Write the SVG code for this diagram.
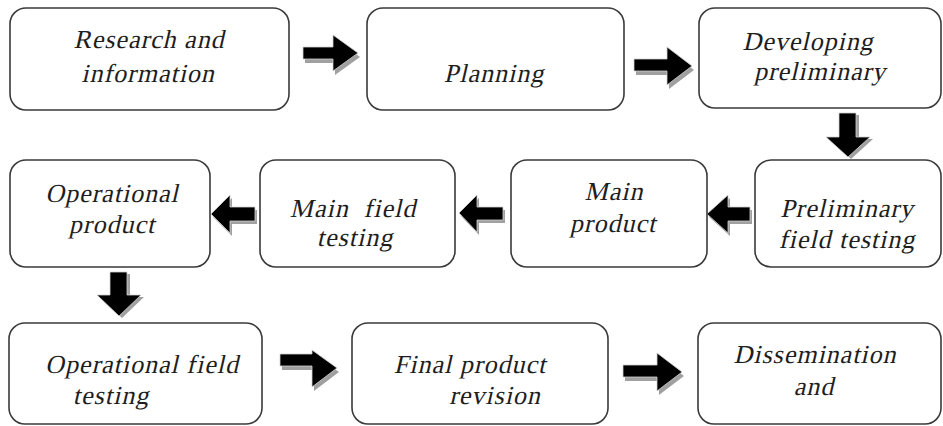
<svg xmlns="http://www.w3.org/2000/svg" width="943" height="426" viewBox="0 0 943 426">
<style>
.box{fill:#fff;stroke:#3a3a3a;stroke-width:1.6}
.t{font-family:'Liberation Serif','Times New Roman',serif;font-size:26px;letter-spacing:1px;fill:#1e1e1e;text-anchor:middle}
.ar{fill:#000;stroke:#d0d0d0;stroke-width:0.8}
.sh{fill:#a0a0a0}
</style>
<rect width="943" height="426" fill="#fff"/>
<g id="connectors">
  <path class="sh" transform="translate(2,4)" d="M303,47 H333 V35 L358,53 L333,71 V59 H303 Z"/>
  <path class="ar" d="M303,47 H333 V35 L358,53 L333,71 V59 H303 Z"/>
  <path class="sh" transform="translate(2,4)" d="M634,59 H667 V47 L692,66 L667,85 V71 H634 Z"/>
  <path class="ar" d="M634,59 H667 V47 L692,66 L667,85 V71 H634 Z"/>
  <path class="sh" transform="translate(3,2)" d="M839,113 H856 V137 H870 L848,157 L826,137 H839 Z"/>
  <path class="ar" d="M839,113 H856 V137 H870 L848,157 L826,137 H839 Z"/>
  <path class="sh" transform="translate(2,3)" d="M750,207 H728 V195 L707,214 L728,233 V221 H750 Z"/>
  <path class="ar" d="M750,207 H728 V195 L707,214 L728,233 V221 H750 Z"/>
  <path class="sh" transform="translate(2,3)" d="M503,207 H477 V195 L459,213 L477,232 V220 H503 Z"/>
  <path class="ar" d="M503,207 H477 V195 L459,213 L477,232 V220 H503 Z"/>
  <path class="sh" transform="translate(2,3)" d="M255,207 H230 V195 L211,214 L230,233 V221 H255 Z"/>
  <path class="ar" d="M255,207 H230 V195 L211,214 L230,233 V221 H255 Z"/>
  <path class="sh" transform="translate(3,2)" d="M110,272 H127 V295 H141 L119,316 L97,295 H110 Z"/>
  <path class="ar" d="M110,272 H127 V295 H141 L119,316 L97,295 H110 Z"/>
  <path class="sh" transform="translate(2,4)" d="M280,354 H312 V350 L337,368 L312,387 V366 H280 Z"/>
  <path class="ar" d="M280,354 H312 V350 L337,368 L312,387 V366 H280 Z"/>
  <path class="sh" transform="translate(2,4)" d="M623,365 H657 V353 L682,372 L657,391 V377 H623 Z"/>
  <path class="ar" d="M623,365 H657 V353 L682,372 L657,391 V377 H623 Z"/>
</g>
<g id="n1"><rect class="box" x="10" y="8" width="279" height="102" rx="16"/>
  <text class="t" transform="translate(149,48) skewX(-13)">Research and</text><text class="t" transform="translate(148,82) skewX(-13)">information</text></g>
<g id="n2"><rect class="box" x="367" y="8" width="257" height="102" rx="16"/>
  <text class="t" transform="translate(494,82) skewX(-13)">Planning</text></g>
<g id="n3"><rect class="box" x="699" y="8" width="242" height="100" rx="16"/>
  <text class="t" transform="translate(808,50) skewX(-13)">Developing</text><text class="t" transform="translate(820,80) skewX(-13)">preliminary</text></g>
<g id="n4"><rect class="box" x="10" y="160" width="200" height="107" rx="16"/>
  <text class="t" transform="translate(112,202) skewX(-13)">Operational</text><text class="t" transform="translate(112,233) skewX(-13)">product</text></g>
<g id="n5"><rect class="box" x="260" y="160" width="195" height="107" rx="16"/>
  <text class="t" transform="translate(353,217) skewX(-13)" xml:space="preserve">Main  field</text><text class="t" transform="translate(355,246) skewX(-13)">testing</text></g>
<g id="n6"><rect class="box" x="511" y="160" width="196" height="107" rx="16"/>
  <text class="t" transform="translate(614,200) skewX(-13)">Main</text><text class="t" transform="translate(613,232) skewX(-13)">product</text></g>
<g id="n7"><rect class="box" x="755" y="160" width="186" height="107" rx="16"/>
  <text class="t" transform="translate(847,217) skewX(-13)">Preliminary</text><text class="t" transform="translate(847,248) skewX(-13)">field testing</text></g>
<g id="n8"><rect class="box" x="9" y="323" width="253" height="101" rx="16"/>
  <text class="t" transform="translate(142,373) skewX(-13)">Operational field</text><text class="t" transform="translate(111,404) skewX(-13)">testing</text></g>
<g id="n9"><rect class="box" x="352" y="323" width="256" height="101" rx="16"/>
  <text class="t" transform="translate(470,373) skewX(-13)">Final product</text><text class="t" transform="translate(495,404) skewX(-13)">revision</text></g>
<g id="n10"><rect class="box" x="698" y="323" width="243" height="101" rx="16"/>
  <text class="t" transform="translate(815,363) skewX(-13)">Dissemination</text><text class="t" transform="translate(814,395) skewX(-13)">and</text></g>
</svg>
